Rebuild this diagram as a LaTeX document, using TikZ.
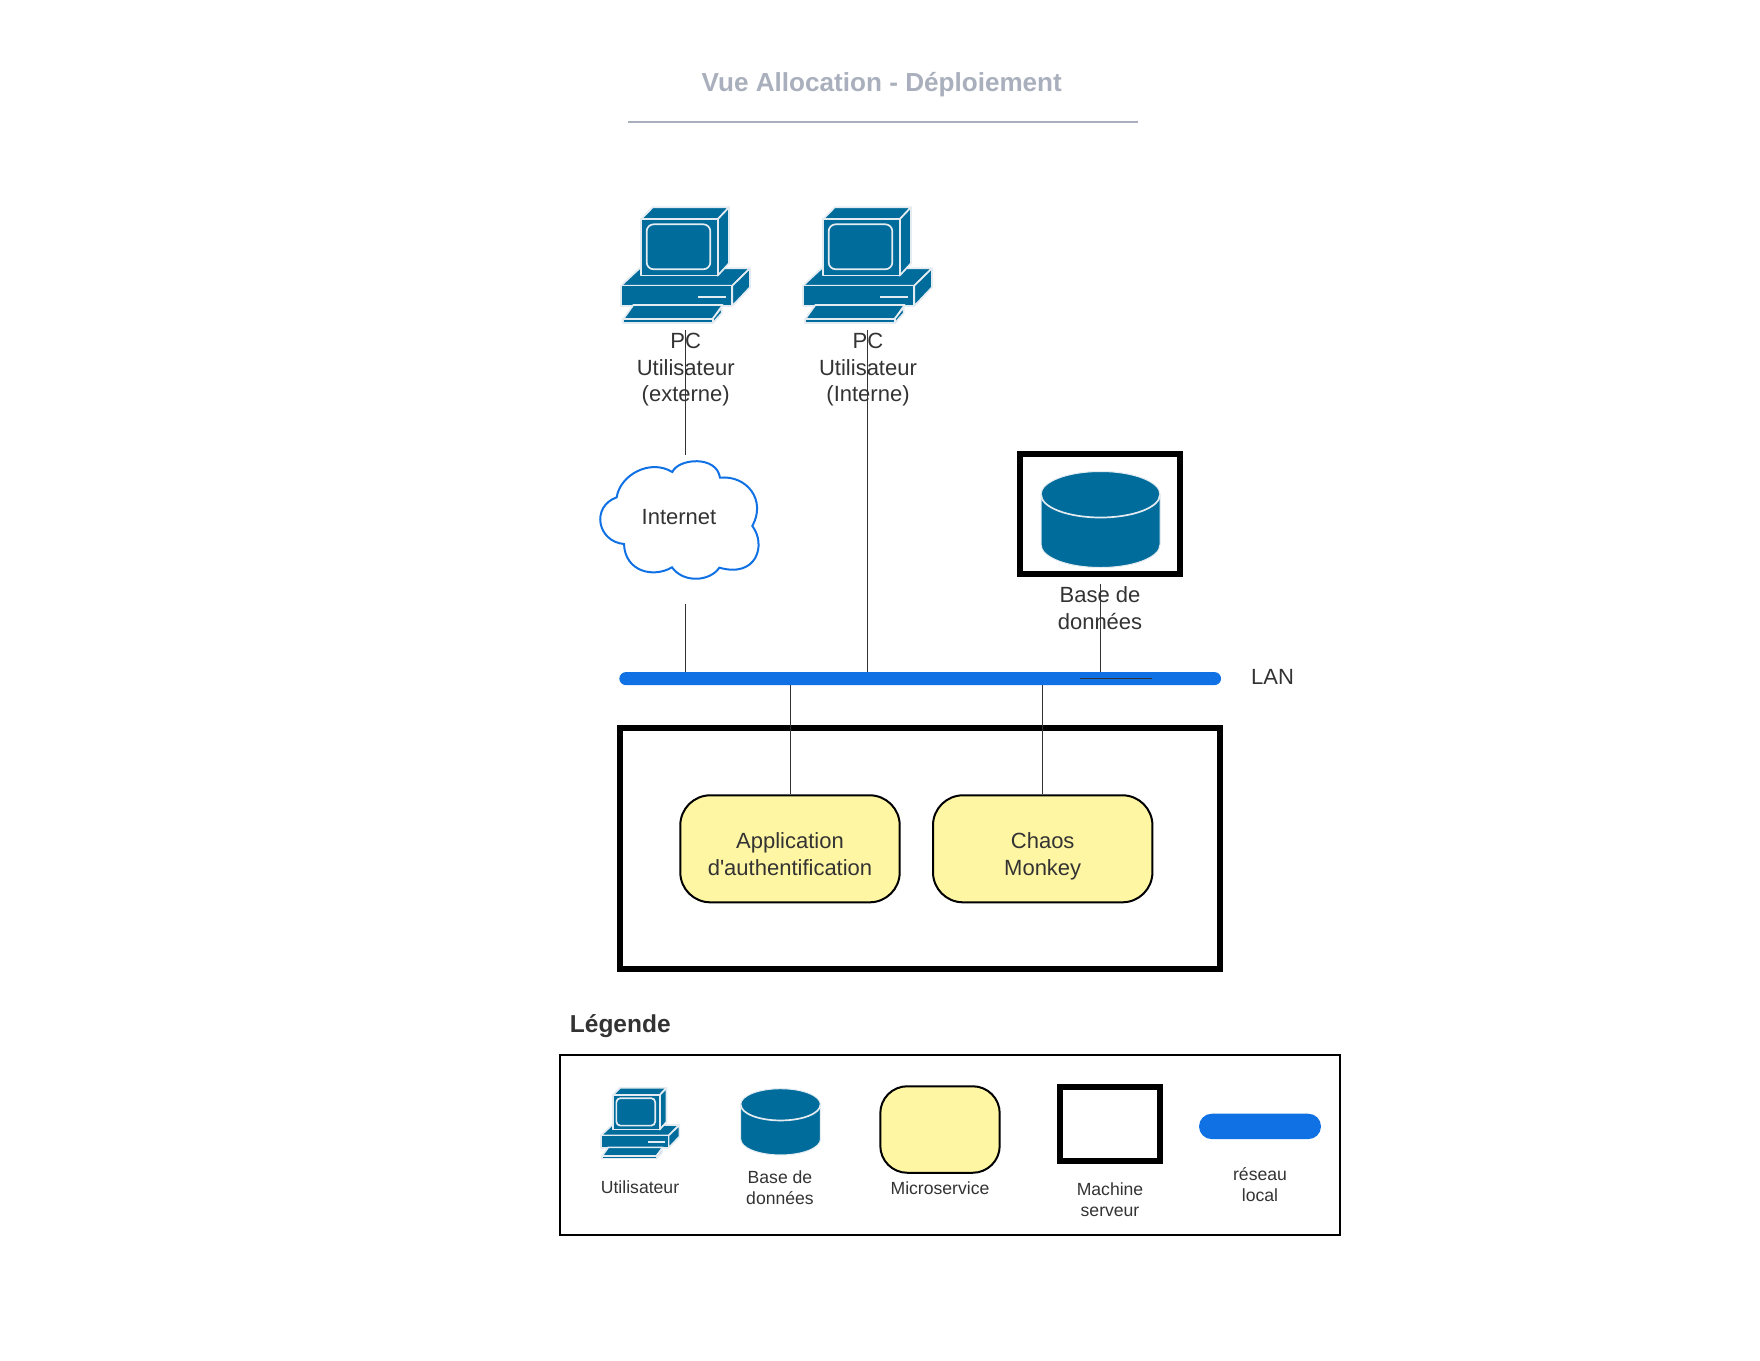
\documentclass[tikz,border=0pt]{standalone}
\usepackage{fontspec}
\setmainfont{Liberation Sans}[Ligatures=TeXOff]
\definecolor{inktext}{HTML}{333333}
\definecolor{titlegray}{HTML}{A9AFBC}
\definecolor{tealicon}{HTML}{006C9C}
\definecolor{iconedge}{HTML}{E4ECF1}
\definecolor{lanblue}{HTML}{1071E5}
\definecolor{svcyellow}{HTML}{FFF6A3}
\tikzset{
  label22/.style={text=inktext,align=center,inner sep=0pt,font=\fontsize{22}{26.67}\selectfont},
  label17/.style={text=inktext,align=center,inner sep=0pt,font=\fontsize{17.6}{21.3}\selectfont},
  link/.style={draw=inktext,line width=1pt},
  svcbox/.style={draw=black,fill=svcyellow,line width=2pt,inner sep=0pt,text=inktext,align=center,text height=53pt,text depth=0pt,font=\fontsize{22}{26.67}\selectfont},
  hostbox/.style={draw=black,line width=6pt,inner sep=0pt},
  lanbar/.style={fill=lanblue,inner sep=0pt},
  pcicon/.pic={
    \begin{scope}[fill=tealicon,draw=iconedge,line width=1.7pt,line join=round]
    \filldraw (0,235)--(57,182)--(387,183)--(334,235)--cycle;
    \filldraw (334,235)--(387,183)--(387,240)--(334,296)--cycle;
    \filldraw (0,235) rectangle (334,296);
    \draw[line width=2pt] (231,268)--(315,268);
    \filldraw (60,36)--(95,0)--(324,0)--(290,36)--cycle;
    \filldraw (290,36)--(324,0)--(324,168)--(290,205)--cycle;
    \filldraw (60,36) rectangle (290,205);
    \draw[rounded corners=#1pt] (77,51) rectangle (268,186);
    \filldraw (7,335)--(37,293)--(305,293)--(275,335)--cycle;
    \filldraw (275,335)--(302,300)--(302,318)--(275,348)--cycle;
    \filldraw (7,335) rectangle (275,348);
    \end{scope}
  },
  dbicon/.pic={
    \filldraw[fill=tealicon,draw=iconedge,line width=1pt] (0,23)--(0,73)
      .. controls (0,86) and (27,96) .. (59.5,96) .. controls (92,96) and (119,86) .. (119,73)
      --(119,23) .. controls (119,10) and (92,0) .. (59.5,0) .. controls (27,0) and (0,10) .. (0,23)--cycle;
    \draw[draw=iconedge,line width=1.7pt] (0,23) .. controls (0,36) and (27,46) .. (59.5,46)
      .. controls (92,46) and (119,36) .. (119,23);
  }
}
\begin{document}
\begin{tikzpicture}[x=1pt,y=-1pt]
 \useasboundingbox (0,0) rectangle (1760,1360);
 \node[text=titlegray,inner sep=0pt,font=\fontsize{26.1}{30}\selectfont\bfseries] (title) at (881.8,84.3) {Vue Allocation - Déploiement};
 \coordinate (ruleL) at (628,121.7);
 \coordinate (ruleR) at (1138,121.7);
 \draw[titlegray,line width=1.6pt] (ruleL)--(ruleR);

 \pic[scale=0.3333] (pcExt) at (621,207.3) {pcicon=7};
 \pic[scale=0.3333] (pcInt) at (803,207.3) {pcicon=7};
 \node[label22] (pcExtLabel) at (685.7,369.7) {PC\\Utilisateur\\(externe)};
 \node[label22] (pcIntLabel) at (868,369.7) {PC\\Utilisateur\\(Interne)};

 \draw[lanblue,line width=2pt,shift={(600,450)},scale=0.3333]
   (50,142) .. controls (60,75) and (150,25) .. (217,66)
   .. controls (235,25) and (350,15) .. (360,83)
   .. controls (440,75) and (500,150) .. (457,228)
   .. controls (500,285) and (470,385) .. (358,353)
   .. controls (330,395) and (250,400) .. (216,352)
   .. controls (160,385) and (75,365) .. (72,282)
   .. controls (-8,275) and (-28,170) .. (50,142)--cycle;
 \node[label22] (internet) at (679,517.5) {Internet};

 \node[hostbox,minimum width=160pt,minimum height=120pt] (dbBox) at (1100,514) {};
 \pic[scale=1] (dbMain) at (1041,471.5) {dbicon};
 \node[label22] (dbLabel) at (1100,608) {Base de\\données};

 \node[lanbar,rounded corners=6.5pt,minimum width=601.7pt,minimum height=13pt] (lan) at (920.2,678.6) {};
 \node[label22,anchor=west] (lanLabel) at (1251,676.8) {LAN};

 \node[hostbox,minimum width=600pt,minimum height=241pt] (serverBox) at (920,848.5) {};
 \node[svcbox,rounded corners=30pt,minimum width=219.4pt,minimum height=107pt] (appAuth) at (790,848.8) {Application\\d'authentification};
 \node[svcbox,rounded corners=30pt,minimum width=219.4pt,minimum height=107pt] (chaosMonkey) at (1042.7,848.8) {Chaos\\Monkey};

 \coordinate (pcExtFoot) at (685.7,330);
 \coordinate (cloudTop) at (685.7,455);
 \coordinate (cloudFoot) at (685.7,604);
 \coordinate (pcIntFoot) at (867.7,330);
 \coordinate (dbFoot) at (1100,584);
 \coordinate (lanStubL) at (1080,678.6);
 \coordinate (lanStubR) at (1152,678.6);
 \draw[link] (pcExtFoot)--(cloudTop);
 \draw[link] (cloudFoot)--(cloudFoot |- lan.north);
 \draw[link] (pcIntFoot)--(pcIntFoot |- lan.north);
 \draw[link] (dbFoot)--(dbFoot |- lan.north);
 \draw[link] (lanStubL)--(lanStubR);
 \draw[link] (appAuth.north)--(appAuth.north |- lan.south);
 \draw[link] (chaosMonkey.north)--(chaosMonkey.north |- lan.south);

 \node[text=inktext,anchor=west,inner sep=0pt,font=\fontsize{24.5}{28}\selectfont\bfseries] (legendTitle) at (569.7,1026) {Légende};
 \node[draw=black,line width=2pt,inner sep=0pt,minimum width=780pt,minimum height=179.6pt] (legendBox) at (950,1144.8) {};
 \pic[scale=0.2033] (pcLegend) at (600.7,1087.8) {pcicon=4};
 \pic[xscale=0.67,yscale=0.69] (dbLegend) at (740.7,1088.7) {dbicon};
 \node[svcbox,rounded corners=27pt,minimum width=119.4pt,minimum height=86.5pt,text height=0pt] (svcLegend) at (940,1129.5) {};
 \node[hostbox,minimum width=100pt,minimum height=74pt] (hostLegend) at (1110,1124) {};
 \node[lanbar,rounded corners=12.7pt,minimum width=122pt,minimum height=25.4pt] (lanLegend) at (1260,1126.4) {};
 \node[label17] (pcLegendLabel) at (640,1187.5) {Utilisateur};
 \node[label17] (dbLegendLabel) at (780,1188) {Base de\\données};
 \node[label17] (svcLegendLabel) at (940,1188) {Microservice};
 \node[label17] (hostLegendLabel) at (1110,1199.4) {Machine\\serveur};
 \node[label17] (lanLegendLabel) at (1260,1184.4) {réseau\\local};
\end{tikzpicture}
\end{document}
